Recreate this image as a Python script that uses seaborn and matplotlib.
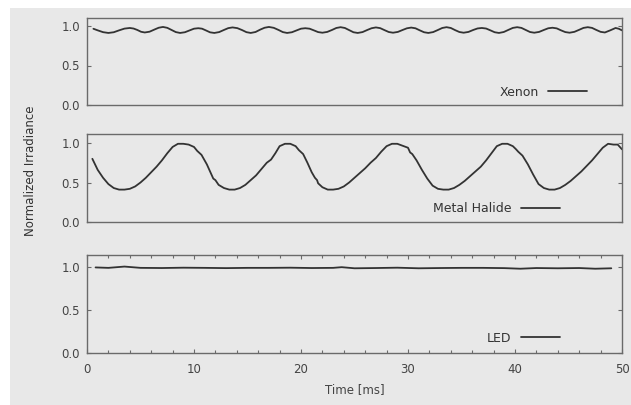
import numpy as np
import pandas as pd
import matplotlib
matplotlib.use('Agg')
import matplotlib.pyplot as plt
import seaborn as sns
from matplotlib.patches import Rectangle
from matplotlib.ticker import MultipleLocator

xenon_t = [0.6, 1.0, 1.5, 2.0, 2.5, 3.0, 3.5, 4.0, 4.35, 4.7, 5.05, 5.4, 5.85, 6.3, 6.7, 7.1,
           7.5, 7.9, 8.3, 8.7, 9.15, 9.6, 10.0, 10.4, 10.75, 11.1, 11.5, 11.9, 12.35, 12.8,
           13.2, 13.6, 14.05, 14.5, 14.9, 15.3, 15.75, 16.2, 16.6, 17.0, 17.45, 17.9, 18.3,
           18.7, 19.15, 19.6, 20.0, 20.4, 20.8, 21.2, 21.6, 22.0, 22.45, 22.9, 23.3, 23.7,
           24.1, 24.5, 24.9, 25.3, 25.75, 26.2, 26.6, 27.0, 27.4, 27.8, 28.2, 28.6, 29.05,
           29.5, 29.9, 30.3, 30.7, 31.1, 31.5, 31.9, 32.35, 32.8, 33.2, 33.6, 34.0, 34.4,
           34.8, 35.2, 35.65, 36.1, 36.5, 36.9, 37.3, 37.7, 38.1, 38.5, 38.95, 39.4, 39.8,
           40.2, 40.6, 41.0, 41.4, 41.8, 42.25, 42.7, 43.1, 43.5, 43.9, 44.3, 44.7, 45.1,
           45.55, 46.0, 46.4, 46.8, 47.2, 47.6, 48.0, 48.4, 48.9, 49.4, 49.7, 50.0]
xenon_v = [0.965, 0.945, 0.922, 0.912, 0.921, 0.945, 0.967, 0.975, 0.968, 0.950, 0.927, 0.918,
           0.928, 0.955, 0.978, 0.988, 0.977, 0.950, 0.923, 0.912, 0.921, 0.945, 0.966, 0.972,
           0.966, 0.945, 0.920, 0.912, 0.923, 0.950, 0.973, 0.982, 0.973, 0.948, 0.922, 0.912,
           0.924, 0.955, 0.978, 0.988, 0.977, 0.950, 0.923, 0.912, 0.921, 0.945, 0.966, 0.972,
           0.966, 0.945, 0.923, 0.915, 0.925, 0.950, 0.975, 0.985, 0.975, 0.948, 0.921, 0.912,
           0.923, 0.950, 0.972, 0.982, 0.973, 0.948, 0.924, 0.915, 0.925, 0.950, 0.971, 0.980,
           0.971, 0.945, 0.921, 0.912, 0.923, 0.950, 0.975, 0.985, 0.975, 0.948, 0.924, 0.915,
           0.925, 0.950, 0.969, 0.975, 0.968, 0.945, 0.921, 0.912, 0.924, 0.952, 0.976, 0.985,
           0.976, 0.950, 0.924, 0.915, 0.925, 0.950, 0.971, 0.978, 0.970, 0.945, 0.923, 0.915,
           0.926, 0.952, 0.976, 0.985, 0.976, 0.950, 0.926, 0.918, 0.945, 0.975, 0.965, 0.945]

halide_t = [0.5, 1.0, 1.5, 2.0, 2.5, 3.0, 3.5, 4.0, 4.5, 5.0, 5.5, 6.0, 6.5, 7.0, 7.5,
            8.0, 8.5, 9.0, 9.5, 10.0, 10.3, 10.7, 11.2, 11.5, 11.7, 11.8, 12.0, 12.3,
            12.8, 13.3, 13.8, 14.3, 14.8, 15.3, 15.8, 16.3, 16.8, 17.2, 17.6, 18.0, 18.5,
            19.0, 19.5, 19.8, 20.2, 20.6, 21.0, 21.3, 21.5, 21.6, 22.0, 22.5, 23.0, 23.5,
            24.0, 24.5, 25.0, 25.5, 26.0, 26.5, 27.0, 27.5, 28.0, 28.5, 29.0, 29.6, 30.0,
            30.2, 30.4, 30.8, 31.3, 31.8, 32.3, 32.8, 33.3, 33.8, 34.3, 34.8, 35.3, 35.8,
            36.3, 36.8, 37.3, 37.8, 38.3, 38.8, 39.3, 39.8, 40.1, 40.3, 40.7, 41.2, 41.7,
            42.2, 42.7, 43.2, 43.7, 44.2, 44.7, 45.2, 45.7, 46.2, 46.7, 47.2, 47.7, 48.2,
            48.7, 49.2, 49.6, 50.0]
halide_v = [0.80, 0.66, 0.56, 0.48, 0.43, 0.41, 0.41, 0.42, 0.45, 0.50, 0.56, 0.63, 0.70,
            0.78, 0.87, 0.95, 0.99, 0.99, 0.98, 0.95, 0.90, 0.85, 0.73, 0.64, 0.58, 0.55,
            0.53, 0.47, 0.43, 0.41, 0.41, 0.43, 0.47, 0.53, 0.59, 0.67, 0.75, 0.79, 0.87,
            0.96, 0.99, 0.99, 0.96, 0.91, 0.86, 0.75, 0.63, 0.56, 0.53, 0.49, 0.44, 0.41,
            0.41, 0.42, 0.45, 0.50, 0.56, 0.62, 0.68, 0.75, 0.81, 0.89, 0.96, 0.99, 0.99,
            0.96, 0.94, 0.88, 0.86, 0.78, 0.66, 0.55, 0.46, 0.42, 0.41, 0.41, 0.43, 0.47,
            0.52, 0.58, 0.64, 0.70, 0.78, 0.87, 0.96, 0.99, 0.99, 0.96, 0.92, 0.89, 0.84,
            0.73, 0.60, 0.48, 0.43, 0.41, 0.41, 0.43, 0.47, 0.52, 0.58, 0.64, 0.71, 0.78,
            0.86, 0.94, 0.99, 0.98, 0.98, 0.92]

led_t = [0.8, 2.0, 3.5, 5.0, 7.0, 9.0, 11.0, 13.0, 15.0, 17.0, 19.0, 21.0, 23.0, 23.8,
         25.0, 27.0, 29.0, 31.0, 33.0, 35.0, 37.0, 39.0, 40.5, 42.0, 44.0, 46.0, 47.5, 49.0]
led_v = [0.995, 0.990, 1.005, 0.990, 0.988, 0.992, 0.990, 0.987, 0.990, 0.990, 0.992, 0.988,
         0.990, 0.998, 0.985, 0.988, 0.992, 0.985, 0.988, 0.990, 0.990, 0.987, 0.980, 0.988,
         0.985, 0.988, 0.980, 0.985]

series = [('Xenon', xenon_t, xenon_v), ('Metal Halide', halide_t, halide_v), ('LED', led_t, led_v)]

sns.set_theme(style='ticks')
plt.rcParams['font.family'] = ['DejaVu Sans']
bg = '#e8e8e8'
ink = '#333333'
frame = '#6a6a6a'

fig = plt.figure(figsize=(6.31, 4.05), dpi=100)
fig.patch.set_facecolor('white')
fig.add_artist(Rectangle((10/631, 0), 1, 397/405, transform=fig.transFigure,
                         facecolor=bg, edgecolor='none', zorder=-10))

# axes boxes in pixels: (top, bottom)
boxes = [(18, 105), (134, 222), (255, 353)]
legend_pos = [(0.935, 0.148), (0.884, 0.148), (0.884, 0.153)]
axes = []
for i, ((top, bot), (name, t, v)) in enumerate(zip(boxes, series)):
    ax = fig.add_axes([87/631, 1 - bot/405, 535/631, (bot - top)/405])
    ax.set_facecolor(bg)
    df = pd.DataFrame({'t': t, 'v': v})
    sns.lineplot(data=df, x='t', y='v', ax=ax, color=ink, linewidth=1.3, label=name, sort=False)
    ax.set_xlim(0, 50)
    unit = 86 if i == 2 else 79
    ax.set_ylim(0, (bot - top) / unit)
    ax.set_yticks([0.0, 0.5, 1.0])
    ax.set_yticklabels(['0.0', '0.5', '1.0'])
    ax.set_xlabel('')
    ax.set_ylabel('')
    for s in ax.spines.values():
        s.set_visible(True)
        s.set_color(frame)
        s.set_linewidth(1.0)
    ax.tick_params(axis='y', direction='in', length=3, width=0.8, color=frame,
                   labelsize=8.5, labelcolor='#444444', left=True, right=True, pad=5)
    if i < 2:
        ax.tick_params(axis='x', bottom=False, top=False, labelbottom=False)
    else:
        ax.set_xticks([0, 10, 20, 30, 40, 50])
        ax.xaxis.set_minor_locator(MultipleLocator(2))
        ax.tick_params(axis='x', which='both', direction='in', color=frame, width=0.8,
                       top=True, bottom=True, labelsize=8.5, labelcolor='#444444', pad=7)
        ax.tick_params(axis='x', which='major', length=3)
        ax.tick_params(axis='x', which='minor', length=2)
        ax.set_xlabel('Time [ms]', fontsize=8.5, color='#444444', labelpad=5)
    leg = ax.legend(loc='center right', bbox_to_anchor=legend_pos[i], frameon=False,
                    markerfirst=False, borderpad=0, borderaxespad=0, handlelength=3.1,
                    handletextpad=0.8, fontsize=9)
    for txt in leg.get_texts():
        txt.set_color('#333333')
    axes.append(ax)

fig.text(30/631, 1 - 171/405, 'Normalized Irradiance', rotation=90, ha='center', va='center',
         fontsize=8.5, color='#333333')

fig.savefig('out.png', dpi=100)
